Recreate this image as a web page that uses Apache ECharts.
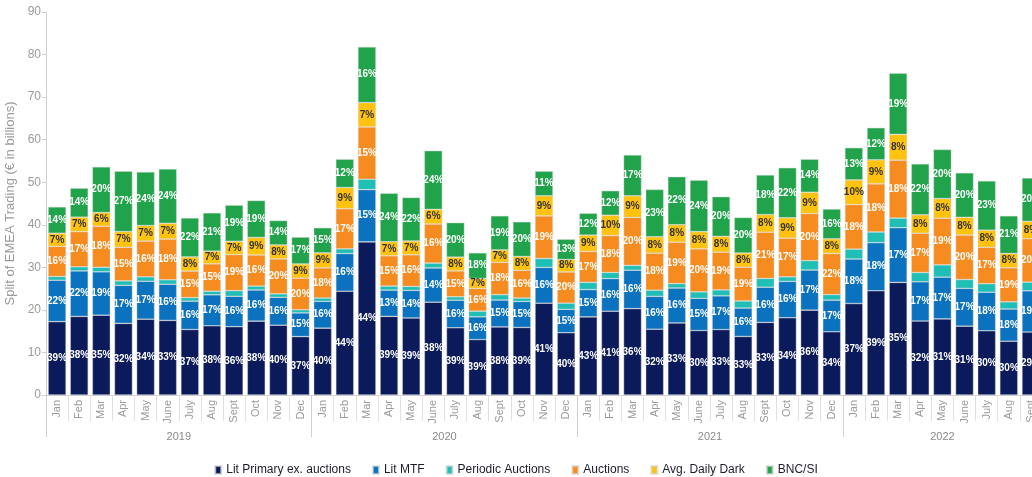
<!DOCTYPE html>
<html>
<head>
<meta charset="utf-8">
<script src="https://cdn.jsdelivr.net/npm/echarts@6/dist/echarts.min.js"></script>
<style>
html,body{margin:0;padding:0;background:#fff;}
#chart{width:1032px;height:477px;}
</style>
</head>
<body>
<div id="chart"></div>
<script>
const months = ['Jan','Feb','Mar','Apr','May','June','July','Aug','Sept','Oct','Nov','Dec'];
const years = ['2019','2020','2021','2022'];
const monthsInYear = [12,12,12,9];
const yTicks = [0,10,20,30,40,50,60,70,80,90];

// Total trading per month (€ bn)
const totals = [
  44.2,48.6,53.6,52.6,52.4,53.1,41.6,42.8,44.6,45.7,41.0,37.1,
  39.3,55.4,81.8,47.4,46.4,57.4,40.5,33.4,42.1,40.7,52.6,36.6,
  42.7,48.0,56.4,48.3,51.3,50.5,46.6,41.7,51.7,53.4,55.4,43.7,
  58.1,62.8,75.6,54.3,57.7,52.2,50.3,42.1,51.0
];
// Shares (%)
const litPrimary = [
  39,38,35,32,34,33,37,38,36,38,40,37,
  40,44,44,39,39,38,39,39,38,39,41,40,
  43,41,36,32,33,30,33,33,33,34,36,34,
  37,39,35,32,31,31,30,30,29
];
const litMTF = [
  22,22,19,17,17,16,16,17,16,16,16,15,
  16,16,15,13,14,14,16,16,15,15,16,15,
  15,16,16,16,16,15,17,16,16,16,17,17,
  18,18,17,17,17,17,18,18,19
];
const periodic = [
  2,2,2,2,2,2,2,2,3,2,2,2,
  2,2,3,2,2,2,2,4,3,2,4,4,
  4,3,2,3,2,3,3,4,4,2,4,3,
  4,4,3,4,5,4,4,4,4
];
const auctions = [
  16,17,18,15,16,18,15,15,19,16,20,20,
  18,17,15,15,16,16,15,16,18,16,19,20,
  17,18,20,18,19,20,19,19,21,17,20,22,
  18,18,18,17,19,20,17,19,20
];
const dark = [
  7,7,6,7,7,7,8,7,7,9,8,9,
  9,9,7,7,7,6,8,7,7,8,9,8,
  9,10,9,8,8,8,8,8,8,9,9,8,
  10,9,8,8,8,8,8,8,8
];
const bnc = [
  14,14,20,27,24,24,22,21,19,19,14,17,
  15,12,16,24,22,24,20,18,19,20,11,13,
  12,12,17,23,22,24,20,20,18,22,14,16,
  13,12,19,22,20,20,23,21,20
];

const seriesNames = ['Lit Primary ex. auctions','Lit MTF','Periodic Auctions','Auctions','Avg. Daily Dark','BNC/SI'];
const seriesPcts = [litPrimary, litMTF, periodic, auctions, dark, bnc];
const colors = ['#0b1a5a','#0a72bf','#1fbfb6','#f68b1f','#fec20f','#20a34a'];
const labelColors = ['#fff','#fff','#fff','#fff','#333','#fff'];
const showLabel = [true,true,false,true,true,true];

// month categories
const cats = [];
years.forEach((y,yi)=>{ for(let m=0;m<monthsInYear[yi];m++) cats.push(y+'|'+months[m]); });

// half-month points for year axis
const nHalf = cats.length*2 + 1;
const halfCats = [];
for(let k=0;k<nHalf;k++) halfCats.push('h'+k);
const yearCenter = {}; const yearBound = {};
let acc = 0;
years.forEach((y,yi)=>{
  yearBound[acc*2] = true;
  yearCenter[acc*2 + monthsInYear[yi]] = y;
  acc += monthsInYear[yi];
});
yearBound[acc*2] = true;

const chart = echarts.init(document.getElementById('chart'), null, {renderer:'canvas'});

const series = seriesNames.map((name,si)=>({
  name,
  type:'bar',
  stack:'total',
  xAxisIndex:0,
  barCategoryGap:'19%',
  itemStyle:{color:colors[si], borderColor:'rgba(215,215,215,0.7)', borderWidth:0.6},
  label:{
    show:showLabel[si],
    position:'inside',
    color:labelColors[si],
    fontFamily:'Liberation Sans',
    fontWeight:'bold',
    fontSize:10,
    formatter:(p)=>seriesPcts[si][p.dataIndex]+'%'
  },
  data: totals.map((t,i)=>+(t*seriesPcts[si][i]/100).toFixed(3))
}));

chart.setOption({
  animation:false,
  color:colors,
  textStyle:{fontFamily:'Liberation Sans'},
  grid:{left:46, top:12, width:996, bottom:82, containLabel:false, outerBoundsMode:'none'},
  legend:{
    data:seriesNames,
    top:459,
    left:'center',
    icon:'rect',
    itemWidth:6,
    itemHeight:8,
    itemGap:21,
    textStyle:{fontSize:12, color:'#1c1c2c', fontFamily:'Liberation Sans'}
  },
  xAxis:[{
    type:'category',
    data:cats,
    position:'bottom',
    axisLine:{show:true, lineStyle:{color:'#d0d0d0'}},
    axisTick:{show:true, interval:0, length:26, lineStyle:{color:'#e0e0e0'}},
    axisLabel:{interval:0, rotate:90, margin:5, fontSize:11, color:'#9a9a9a',
      formatter:(v)=>v.split('|')[1]}
  },{
    type:'category',
    data:halfCats,
    boundaryGap:false,
    position:'bottom',
    axisLine:{show:false},
    axisTick:{show:true, length:42, interval:(i)=>!!yearBound[i], lineStyle:{color:'#d0d0d0'}},
    axisLabel:{interval:(i)=>!!yearCenter[i], margin:36, fontSize:11, color:'#8a8a8a',
      formatter:(v,i)=>yearCenter[i]||''}
  }],
  yAxis:{
    type:'value',
    min:yTicks[0],
    max:yTicks[yTicks.length-1],
    interval:10,
    name:'Split of EMEA Trading (€ in billions)',
    nameLocation:'middle',
    nameGap:24,
    nameTextStyle:{color:'#9a9a9a', fontSize:13},
    axisLine:{show:true, lineStyle:{color:'#d0d0d0'}},
    axisTick:{show:true, length:4, lineStyle:{color:'#d0d0d0'}},
    splitLine:{show:false},
    axisLabel:{color:'#9a9a9a', fontSize:12, margin:5}
  },
  series
});
</script>
</body>
</html>
